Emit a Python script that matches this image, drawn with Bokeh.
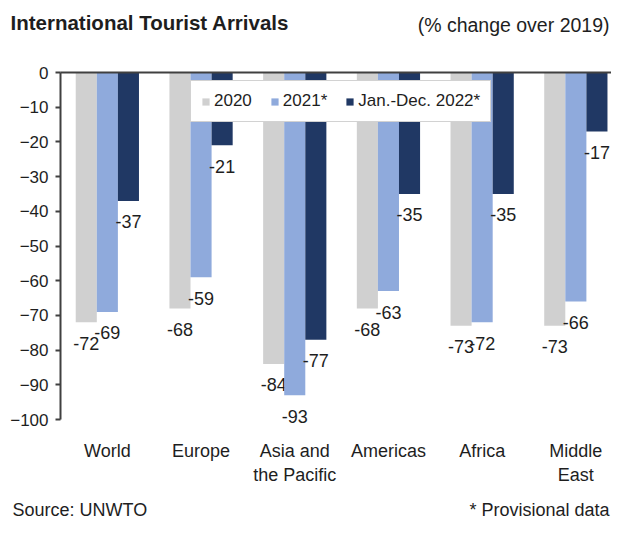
from bokeh.plotting import figure
from bokeh.models import (Range1d, FixedTicker, Legend, LegendItem, Label, LinearAxis,
                          ColumnDataSource)
from bokeh.core.properties import value
from bokeh.embed import file_html
from bokeh.resources import INLINE

# ---- data ----
regions = ["World", "Europe", "Asia and\nthe Pacific", "Americas", "Africa", "Middle\nEast"]
series_names = ["2020", "2021*", "Jan.-Dec. 2022*"]
v2020 = [-72, -68, -84, -68, -73, -73]
v2021 = [-69, -59, -93, -63, -72, -66]
v2022 = [-37, -21, -77, -35, -35, -17]
y_ticks = [0, -10, -20, -30, -40, -50, -60, -70, -80, -90, -100]
title_text = "International Tourist Arrivals"
subtitle_text = "(% change over 2019)"
source_text = "Source: UNWTO"
note_text = "* Provisional data"

colors = ["#D0D0D0", "#8FAADC", "#203864"]
FONT = "Liberation Sans"
TXT = "#1E1E1E"
AX = "#404040"
W, H = 611, 522

# layout geometry (pixels)
AX_X, ZERO_Y = 60, 72          # y-axis position, zero line position
PX_X, PX_Y = 93.7, 3.47        # pixels per group, pixels per percentage point

n = len(regions)
bar_w = 0.225
offsets = [-bar_w, 0.0, bar_w]

x0 = -AX_X / PX_X
y1 = ZERO_Y / PX_Y
p = figure(width=W, height=H, output_backend="svg", toolbar_location=None,
           x_range=Range1d(x0, x0 + W / PX_X), y_range=Range1d(y1 - H / PX_Y, y1),
           min_border=0)
p.outline_line_color = None
p.xgrid.visible = False
p.ygrid.visible = False

renderers = []
for vals, off, col in zip([v2020, v2021, v2022], offsets, colors):
    xs = [i + 0.5 + off for i in range(n)]
    src = ColumnDataSource(dict(x=xs, v=vals, lab=[str(v) for v in vals]))
    r = p.vbar(x="x", top=0, bottom="v", width=bar_w, source=src,
               fill_color=col, line_color=None)
    renderers.append(r)
    p.text(x="x", y="v", text="lab", source=src, text_align="center",
           text_baseline="middle", y_offset=21, text_font=value(FONT),
           text_font_size="18px", text_color=TXT)

# y axis fixed at x = 0
ya = p.yaxis[0]
ya.fixed_location = 0
ya.ticker = FixedTicker(ticks=y_ticks)
ya.bounds = (-100, 0)
ya.axis_line_color = AX
ya.axis_line_width = 2
ya.major_tick_line_color = AX
ya.major_tick_line_width = 2
ya.major_tick_in = 0
ya.major_tick_out = 5
ya.minor_tick_line_color = None
ya.major_label_text_font = FONT
ya.major_label_text_font_size = "17px"
ya.major_label_text_color = TXT
ya.major_label_standoff = 7

# category labels
xa = p.xaxis[0]
xa.fixed_location = -103.5
xa.ticker = FixedTicker(ticks=[i + 0.5 for i in range(n)])
xa.major_label_overrides = {i + 0.5: regions[i] for i in range(n)}
xa.axis_line_color = None
xa.major_tick_line_color = None
xa.minor_tick_line_color = None
xa.major_tick_out = 0
xa.major_tick_in = 0
xa.major_label_standoff = 9
xa.major_label_text_font = FONT
xa.major_label_text_font_size = "18px"
xa.major_label_text_color = TXT

# category axis line at 0
zero_axis = LinearAxis(fixed_location=0, bounds=(0, n + 0.1), ticker=FixedTicker(ticks=[]),
                       axis_line_color=AX, axis_line_width=2,
                       major_tick_line_color=None, minor_tick_line_color=None,
                       major_label_text_font_size="0px")
p.add_layout(zero_axis, "below")

legend = Legend(items=[LegendItem(label=s, renderers=[r]) for s, r in zip(series_names, renderers)],
                orientation="horizontal", location=(190, H - 122),
                label_text_font=FONT, label_text_font_size="17px", label_text_color=TXT,
                glyph_width=9, glyph_height=9, label_standoff=4, spacing=18,
                padding=10, margin=0, border_line_color="#A6A6A6", border_line_width=1,
                background_fill_color="white", background_fill_alpha=1.0)
p.add_layout(legend, "center")

common = dict(x_units="screen", y_units="screen", text_font=FONT, text_color=TXT,
              text_baseline="middle")
p.add_layout(Label(x=10, y=H - 22, text=title_text, text_font_style="bold",
                   text_font_size="20.5px", text_align="left", **common))
p.add_layout(Label(x=W - 2, y=H - 24, text=subtitle_text, text_font_size="19.5px",
                   text_align="right", **common))
p.add_layout(Label(x=12, y=H - 509, text=source_text, text_font_size="18px",
                   text_align="left", **common))
p.add_layout(Label(x=W - 2, y=H - 509, text=note_text, text_font_size="18px",
                   text_align="right", **common))

open("out.html", "w").write(file_html(p, INLINE))
